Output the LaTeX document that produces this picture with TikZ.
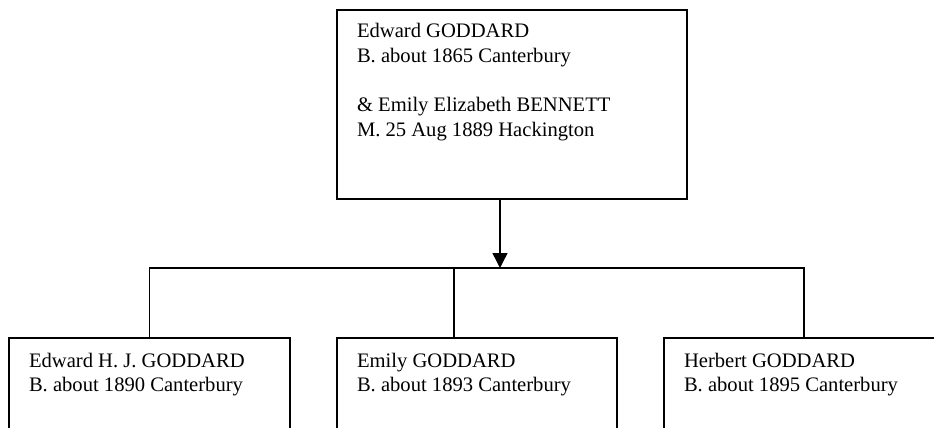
\documentclass[tikz,border=0pt]{standalone}
\usepackage{fontspec}
\setmainfont{Liberation Serif}
\usetikzlibrary{arrows.meta}
\begin{document}
\begin{tikzpicture}[x=1pt,y=-1pt,
  personbox/.style={draw=black, line width=1.8pt, rectangle, inner sep=0pt, outer sep=0pt, anchor=north west},
  txt/.style={anchor=base west, inner sep=0pt, outer sep=0pt, font=\fontsize{20.6pt}{24.5pt}\selectfont},
  link/.style={draw=black, line width=1.4pt}]
\useasboundingbox (0,0) rectangle (934,428);
\clip (0,0) rectangle (934,428);
% parent box
\node[personbox, minimum width=350pt, minimum height=189pt] (top) at (337,10) {};
\node[txt] (toptxt) at ([shift={(20,28)}]top.north west) {\parbox[t]{330pt}{\raggedright Edward GODDARD\\B. about 1865 Canterbury\\[24.5pt]\& Emily Elizabeth BENNETT\\M. 25 Aug 1889 Hackington}};
% children
\node[personbox, minimum width=281pt, minimum height=150pt] (c1) at (9,338) {};
\node[personbox, minimum width=280pt, minimum height=150pt] (c2) at (337,338) {};
\node[personbox, minimum width=280pt, minimum height=150pt] (c3) at (664,338) {};
\node[txt] (c1txt) at ([shift={(20,29)}]c1.north west) {\parbox[t]{260pt}{\raggedright Edward H. J. GODDARD\\B. about 1890 Canterbury}};
\node[txt] (c2txt) at ([shift={(20,29)}]c2.north west) {\parbox[t]{260pt}{\raggedright Emily GODDARD\\B. about 1893 Canterbury}};
\node[txt] (c3txt) at ([shift={(20,29)}]c3.north west) {\parbox[t]{260pt}{\raggedright Herbert GODDARD\\B. about 1895 Canterbury}};
% connectors
\coordinate (bar) at (500,268);
\coordinate (j2) at (454,268);
\draw[link] (c1.north) -- (c1.north |- bar) -- (c3.north |- bar) -- (c3.north);
\draw[link] (j2) -- (j2 |- c2.north);
\draw[link, -{Triangle[width=15pt,length=15pt]}] (top.south -| bar) -- (bar);
\end{tikzpicture}
\end{document}
